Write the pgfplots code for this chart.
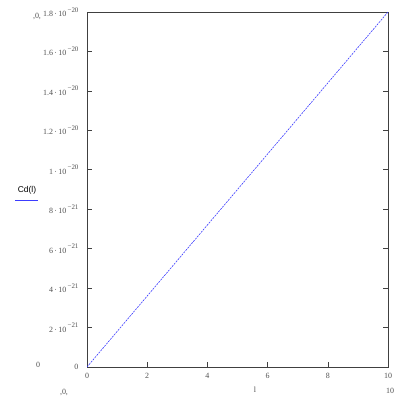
\documentclass[border=0pt]{standalone}
\usepackage{pgfplots}
\pgfplotsset{compat=1.18}
\usepackage{fontspec}
\setmainfont{Liberation Serif}
\newfontfamily\sansf{Liberation Sans}
\definecolor{txt}{HTML}{505050}
\definecolor{axc}{HTML}{404040}
\definecolor{lblue}{HTML}{3C3CFF}
\newcommand{\sci}[2]{#1\,·\,10\hspace{1.2bp}\raisebox{4.5bp}{\fontsize{7}{7}\selectfont −#2}}
\begin{document}
\begin{tikzpicture}[x=1bp,y=1bp]
\useasboundingbox (0,0) rectangle (408,396);
\begin{axis}[
  at={(87bp,29bp)}, anchor=south west,
  scale only axis, width=301bp, height=355bp,
  xmin=0, xmax=10, ymin=0, ymax=1.8e-20,
  axis line style={axc, line width=0.8pt},
  xtick={0,2,4,6,8,10},
  xticklabels={0,2,4,6,8,10},
  ytick={0,2e-21,4e-21,6e-21,8e-21,1e-20,1.2e-20,1.4e-20,1.6e-20,1.8e-20},
  yticklabels={0,\sci{2}{21},\sci{4}{21},\sci{6}{21},\sci{8}{21},\sci{1}{20},\sci{1.2}{20},\sci{1.4}{20},\sci{1.6}{20},\sci{1.8}{20}},
  scaled y ticks=false,
  xtick pos=bottom, ytick pos=both,
  tick align=inside,
  major tick length=5bp,
  tick style={axc, line width=0.6pt},
  tick label style={font=\fontsize{8}{9}\selectfont, text=txt},
  yticklabel style={xshift=-5bp},
  xticklabel style={yshift=-3bp},
]
\addplot[lblue, dash pattern=on 2pt off 1pt, line width=0.6pt] coordinates {(0,0) (10,1.8e-20)};
\end{axis}
\node[text=txt, font=\fontsize{8}{9}\selectfont] at (37,380) {,0,};
\node[text=txt, font=\fontsize{8}{9}\selectfont] at (38,31) {0};
\node[text=txt, font=\fontsize{8}{9}\selectfont] at (64,4) {,0,};
\node[text=txt, font=\fontsize{8}{9}\selectfont] at (390,5) {10};
\node[text=txt, font=\fontsize{8}{9}\selectfont] at (255,6) {l};
\node[text=black, font=\sansf\fontsize{8.5}{9}\selectfont] at (27,206) {Cd(l)};
\fill[lblue] (15,194.5) rectangle (38,195.5);
\end{tikzpicture}
\end{document}
